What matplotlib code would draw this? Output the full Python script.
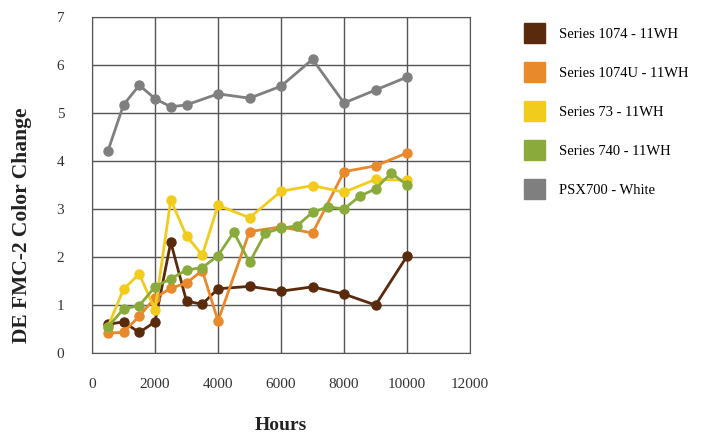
import matplotlib
matplotlib.use('Agg')
import matplotlib.pyplot as plt
from matplotlib.patches import Patch

plt.rcParams['font.family'] = ['Liberation Serif', 'DejaVu Serif']

# 数据
hours_1074 = [500, 1000, 1500, 2000, 2500, 3000, 3500, 4000, 5000, 6000, 7000, 8000, 9000, 10000]
s1074 = [0.6, 0.65, 0.43, 0.65, 2.31, 1.08, 1.02, 1.34, 1.39, 1.29, 1.38, 1.23, 1.0, 2.02]

hours_1074u = [500, 1000, 1500, 2000, 2500, 3000, 3500, 4000, 5000, 6000, 7000, 8000, 9000, 10000]
s1074u = [0.42, 0.43, 0.77, 1.15, 1.35, 1.46, 1.72, 0.67, 2.53, 2.63, 2.5, 3.78, 3.9, 4.17]

hours_73 = [500, 1000, 1500, 2000, 2500, 3000, 3500, 4000, 5000, 6000, 7000, 8000, 9000, 10000]
s73 = [0.54, 1.33, 1.65, 0.9, 3.19, 2.44, 2.04, 3.08, 2.82, 3.37, 3.49, 3.35, 3.62, 3.6]

hours_740 = [500, 1000, 1500, 2000, 2500, 3000, 3500, 4000, 4500, 5000, 5500, 6000, 6500,
             7000, 7500, 8000, 8500, 9000, 9500, 10000]
s740 = [0.54, 0.92, 0.99, 1.38, 1.55, 1.73, 1.78, 2.03, 2.52, 1.89, 2.5, 2.6, 2.65,
        2.93, 3.05, 3.0, 3.27, 3.42, 3.75, 3.5]

hours_psx = [500, 1000, 1500, 2000, 2500, 3000, 4000, 5000, 6000, 7000, 8000, 9000, 10000]
spsx = [4.2, 5.17, 5.58, 5.3, 5.13, 5.17, 5.4, 5.31, 5.56, 6.12, 5.21, 5.48, 5.75]

labels = ['Series 1074 - 11WH', 'Series 1074U - 11WH', 'Series 73 - 11WH',
          'Series 740 - 11WH', 'PSX700 - White']
colors = ['#5a2a0c', '#e8892c', '#f2cc1c', '#8aab3c', '#7f7f7f']

fig = plt.figure(figsize=(7.16, 4.37), dpi=100)
ax = fig.add_axes([0.1285, 0.192, 0.528, 0.769])

series = [(hours_1074, s1074), (hours_1074u, s1074u), (hours_73, s73),
          (hours_740, s740), (hours_psx, spsx)]
for (x, y), c in zip(series, colors):
    ax.plot(x, y, '-o', color=c, lw=2, ms=6.5, zorder=3)

ax.set_xlim(0, 12000)
ax.set_ylim(0, 7)
ax.set_xticks(range(0, 12001, 2000))
ax.set_yticks(range(0, 8))
ax.grid(color='#555555', lw=1, zorder=0)
for sp in ax.spines.values():
    sp.set_color('#555555')
ax.tick_params(length=0, labelsize=11, colors='#333333')
ax.tick_params(axis='x', pad=18)
ax.tick_params(axis='y', pad=20)

ax.set_xlabel('Hours', fontsize=14, fontweight='bold', color='#222222', labelpad=19)
ax.set_ylabel('DE FMC-2 Color Change', fontsize=15.5, fontweight='bold', color='#222222')
ax.yaxis.set_label_coords(-0.16, 0.38)

handles = [Patch(facecolor=c, edgecolor=c) for c in colors]
fig.legend(handles, labels, loc='upper left', bbox_to_anchor=(0.714, 0.978),
           frameon=False, fontsize=10.5, handlelength=1.4, handleheight=1.75,
           labelspacing=1.3, handletextpad=1.0)

plt.savefig('out.png', dpi=100)
